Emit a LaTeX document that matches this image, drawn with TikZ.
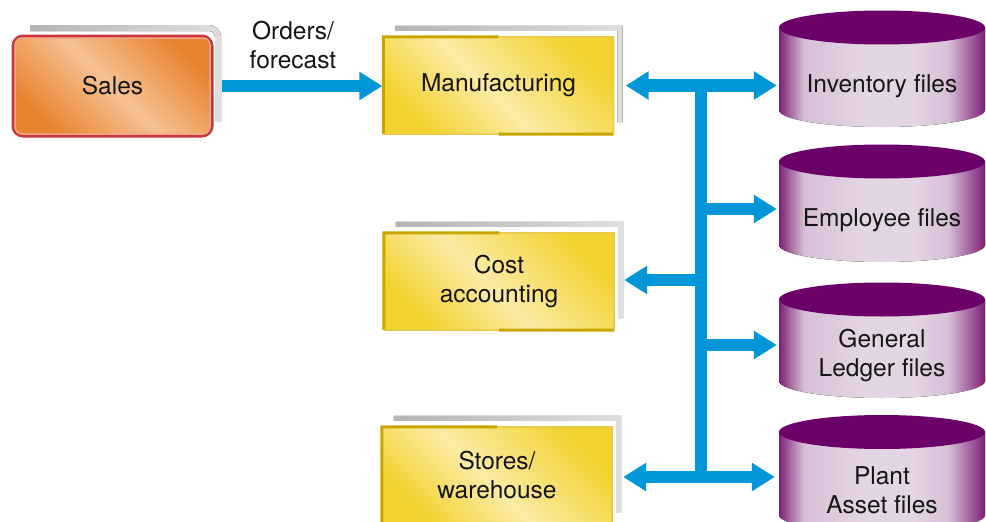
\documentclass[tikz,border=0pt]{standalone}
\usepackage{fontspec}
\setmainfont{TeX Gyre Heros}
\usetikzlibrary{arrows.meta,calc}
\definecolor{ink}{HTML}{151515}
\definecolor{Y1}{HTML}{F2D22E}
\definecolor{Y2}{HTML}{FBEBA5}
\definecolor{O1}{HTML}{E8832E}
\definecolor{O2}{HTML}{F5C192}
\definecolor{redb}{HTML}{C8353B}
\definecolor{pinkring}{HTML}{F2A58A}
\definecolor{gold}{HTML}{C9A500}
\definecolor{goldlt}{HTML}{E6C94A}
\definecolor{blu}{HTML}{0096D7}
\definecolor{ptop}{HTML}{6A0068}
\definecolor{P1}{HTML}{7E2078}
\definecolor{P2}{HTML}{D6C0D6}
\definecolor{P3}{HTML}{E3D5E3}
\definecolor{G1}{HTML}{B4B4B4}
\definecolor{G2}{HTML}{DEDEDE}
\pgfdeclarehorizontalshading{yelsh}{100bp}{color(0bp)=(Y1); color(25bp)=(Y1); color(47bp)=(Y2); color(75bp)=(Y1); color(100bp)=(Y1)}
\pgfdeclarehorizontalshading{orsh}{100bp}{color(0bp)=(O1); color(25bp)=(O1); color(50bp)=(O2); color(75bp)=(O1); color(100bp)=(O1)}
\pgfdeclarehorizontalshading{cylsh}{100bp}{color(0bp)=(P1); color(25bp)=(P1); color(31bp)=(P2); color(45bp)=(P3); color(58bp)=(P3); color(66bp)=(P2); color(75bp)=(P1); color(100bp)=(P1)}
\begin{document}
\begin{tikzpicture}[x=1pt,y=-1pt,
  >={Triangle[length=23pt,width=27pt]},
  txt/.style={font=\fontsize{24.5}{29}\selectfont, text=ink, align=center},
  yelbox/.style={txt, minimum width=230pt, minimum height=97pt, inner sep=0pt, shading=yelsh, shading angle=45},
  salesbox/.style={txt, minimum width=199pt, minimum height=100pt, inner sep=0pt, shading=orsh, shading angle=45, draw=redb, line width=3pt, rounded corners=10pt},
  cyltext/.style={txt, minimum width=206pt, inner sep=0pt},
  backsh/.style={left color=G1, right color=G2},
  bar/.style={draw=blu, line width=12.5pt},
  darkedge/.style={draw=gold, line width=3pt},
  lightedge/.style={draw=goldlt, line width=1.5pt}
]
\useasboundingbox (0,0) rectangle (986,522);

% Sales
\node[salesbox] (sales) at (112.5,86) {Sales};
\draw[pinkring, line width=1.5pt, rounded corners=7pt] ($(sales.north west)+(3.5,3.5)$) rectangle ($(sales.south east)+(-3.5,-3.5)$);
\fill[backsh] (30,25) -- (209,25) arc[start angle=90,end angle=0,radius=12pt] -- (221,121) -- (215,121) -- (215,37) arc[start angle=0,end angle=90,radius=6pt] -- (30,31) -- cycle;

% Yellow boxes
\node[yelbox] (mfg) at (498.5,85.5) {Manufacturing};
\node[yelbox] (cost) at (499,281.5) {Cost\\accounting};
\node[yelbox] (stores) at (497,475.5) {Stores/\\warehouse};
\foreach \n in {mfg,cost,stores}{
  \draw[darkedge] (\n.south west) -- (\n.north west) -- ($(\n.north west)!0.5!(\n.north east)$);
  \draw[darkedge] ($(\n.south west)!0.5!(\n.south east)$) -- (\n.south east);
  \draw[lightedge] ($(\n.north west)!0.5!(\n.north east)$) -- (\n.north east) -- (\n.south east);
  \draw[lightedge] (\n.south west) -- ($(\n.south west)!0.5!(\n.south east)$);
  \fill[backsh] ($(\n.north west)+(12,-11)$) -- ($(\n.north east)+(9,-11)$) -- ($(\n.south east)+(9,-12)$) -- ($(\n.south east)+(4,-12)$) -- ($(\n.north east)+(4,-6)$) -- ($(\n.north west)+(12,-6)$) -- cycle;
}

% Cylinders
\foreach \n/\yt/\yb/\yc/\t in {inv/27.5/110/86/{Inventory files}, emp/161.5/245/220/{Employee files}, gl/299.5/381/356/{General\\Ledger files}, pl/432/515/490/{Plant\\Asset files}}{
  \fill[shading=cylsh] (779,\yt) -- (779,\yb) arc[start angle=180,end angle=360,x radius=103pt,y radius=17pt] -- (985,\yt) -- cycle;
  \fill[ptop] (882,\yt) ellipse[x radius=103pt, y radius=17pt];
  \node[cyltext] (\n) at (882,\yc) {\t};
}

% Label
\node[txt] (lab) at (293,45) {Orders/\\forecast};

% Connectors
\coordinate (t1) at (701,85.5);
\coordinate (t2) at (701,209);
\coordinate (t3) at (701,280);
\coordinate (t4) at (701,345);
\coordinate (t5) at (701,477);
\draw[bar, ->, shorten <=8pt, shorten >=1pt] (sales.east) -- (sales.east -| mfg.west);
\draw[bar] (t1) -- (t5);
\draw[bar, <->, shorten <=12pt, shorten >=2pt] (mfg.east |- t1) -- (inv.west |- t1);
\draw[bar, ->, shorten >=2pt] (t2) -- (t2 -| emp.west);
\draw[bar, ->, shorten >=10pt] (t3) -- (t3 -| cost.east);
\draw[bar, ->, shorten >=2pt] (t4) -- (t4 -| gl.west);
\draw[bar, <->, shorten <=11pt, shorten >=4pt] (stores.east |- t5) -- (pl.west |- t5);
\end{tikzpicture}
\end{document}
